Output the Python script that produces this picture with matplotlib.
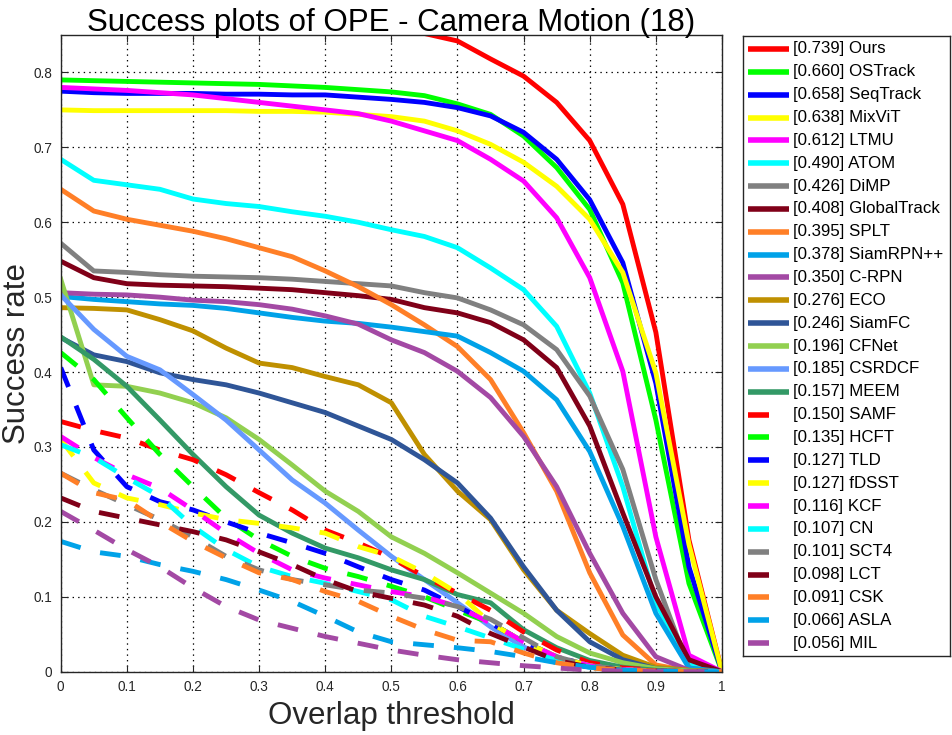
import matplotlib
matplotlib.use("Agg")
import matplotlib.pyplot as plt
import numpy as np

plt.rcParams['font.family'] = ['Liberation Sans', 'DejaVu Sans']
plt.rcParams['lines.scale_dashes'] = False

# overlap thresholds 0:0.05:1
thresholds = np.linspace(0, 1, 21)

names = ['Ours', 'OSTrack', 'SeqTrack', 'MixViT', 'LTMU', 'ATOM', 'DiMP', 'GlobalTrack',
         'SPLT', 'SiamRPN++', 'C-RPN', 'ECO', 'SiamFC', 'CFNet', 'CSRDCF', 'MEEM',
         'SAMF', 'HCFT', 'TLD', 'fDSST', 'KCF', 'CN', 'SCT4', 'LCT', 'CSK', 'ASLA', 'MIL']
auc = [0.739, 0.660, 0.658, 0.638, 0.612, 0.490, 0.426, 0.408, 0.395, 0.378, 0.350,
       0.276, 0.246, 0.196, 0.185, 0.157, 0.150, 0.135, 0.127, 0.127, 0.116, 0.107,
       0.101, 0.098, 0.091, 0.066, 0.056]

ours = [0.875, 0.873, 0.872, 0.871, 0.870, 0.868, 0.866, 0.864, 0.862, 0.860, 0.857,
        0.852, 0.842, 0.818, 0.795, 0.760, 0.709, 0.624, 0.453, 0.176, 0.0]
ostrack = [0.790, 0.789, 0.788, 0.787, 0.786, 0.785, 0.784, 0.782, 0.780, 0.777, 0.774,
           0.769, 0.758, 0.744, 0.715, 0.673, 0.617, 0.519, 0.336, 0.118, 0.0]
seqtrack = [0.775, 0.773, 0.772, 0.772, 0.772, 0.771, 0.771, 0.770, 0.770, 0.767, 0.764,
            0.760, 0.753, 0.742, 0.720, 0.684, 0.630, 0.546, 0.385, 0.140, 0.0]
mixvit = [0.750, 0.749, 0.749, 0.749, 0.749, 0.749, 0.748, 0.748, 0.747, 0.744, 0.741,
          0.735, 0.722, 0.704, 0.680, 0.648, 0.604, 0.533, 0.399, 0.170, 0.0]
ltmu = [0.780, 0.778, 0.776, 0.773, 0.770, 0.765, 0.760, 0.755, 0.750, 0.745, 0.735,
        0.722, 0.709, 0.684, 0.655, 0.606, 0.526, 0.401, 0.180, 0.022, 0.0]
atom = [0.684, 0.656, 0.650, 0.644, 0.631, 0.625, 0.621, 0.614, 0.608, 0.600, 0.590,
        0.581, 0.566, 0.539, 0.510, 0.461, 0.372, 0.247, 0.092, 0.010, 0.0]
dimp = [0.572, 0.535, 0.533, 0.530, 0.528, 0.527, 0.526, 0.524, 0.521, 0.518, 0.515,
        0.506, 0.499, 0.483, 0.463, 0.430, 0.368, 0.270, 0.123, 0.005, 0.0]
globaltrack = [0.548, 0.526, 0.518, 0.516, 0.515, 0.514, 0.512, 0.510, 0.506, 0.502, 0.497,
               0.486, 0.479, 0.466, 0.443, 0.406, 0.328, 0.212, 0.100, 0.016, 0.0]
splt = [0.644, 0.615, 0.604, 0.596, 0.588, 0.578, 0.566, 0.554, 0.535, 0.514, 0.490,
        0.463, 0.434, 0.390, 0.319, 0.241, 0.132, 0.049, 0.009, 0.001, 0.0]
siamrpn = [0.501, 0.497, 0.494, 0.491, 0.489, 0.485, 0.479, 0.473, 0.468, 0.465, 0.460,
           0.454, 0.448, 0.426, 0.401, 0.363, 0.294, 0.194, 0.078, 0.005, 0.0]
crpn = [0.506, 0.504, 0.503, 0.500, 0.496, 0.494, 0.490, 0.484, 0.475, 0.464, 0.443,
        0.426, 0.401, 0.366, 0.314, 0.247, 0.158, 0.078, 0.020, 0.002, 0.0]
eco = [0.486, 0.485, 0.483, 0.470, 0.455, 0.432, 0.412, 0.406, 0.394, 0.383, 0.359,
       0.290, 0.241, 0.203, 0.136, 0.082, 0.051, 0.022, 0.006, 0.002, 0.0]
siamfc = [0.446, 0.423, 0.414, 0.399, 0.390, 0.383, 0.372, 0.359, 0.346, 0.328, 0.310,
          0.283, 0.252, 0.205, 0.140, 0.082, 0.040, 0.016, 0.004, 0.001, 0.0]
cfnet = [0.524, 0.383, 0.381, 0.372, 0.359, 0.339, 0.310, 0.276, 0.241, 0.214, 0.180,
         0.158, 0.132, 0.105, 0.078, 0.047, 0.025, 0.012, 0.004, 0.001, 0.0]
csrdcf = [0.503, 0.457, 0.421, 0.403, 0.370, 0.336, 0.296, 0.256, 0.225, 0.189, 0.154,
          0.123, 0.092, 0.060, 0.033, 0.015, 0.006, 0.002, 0.001, 0.0, 0.0]
meem = [0.447, 0.417, 0.381, 0.336, 0.290, 0.247, 0.209, 0.185, 0.165, 0.152, 0.136,
        0.123, 0.103, 0.092, 0.056, 0.032, 0.015, 0.006, 0.002, 0.0, 0.0]
samf = [0.334, 0.322, 0.312, 0.296, 0.283, 0.263, 0.239, 0.216, 0.189, 0.172, 0.152,
        0.127, 0.105, 0.082, 0.053, 0.029, 0.012, 0.005, 0.002, 0.0, 0.0]
hcft = [0.426, 0.390, 0.339, 0.290, 0.247, 0.205, 0.176, 0.154, 0.138, 0.127, 0.114,
        0.100, 0.082, 0.065, 0.040, 0.020, 0.008, 0.003, 0.001, 0.0, 0.0]
tld = [0.406, 0.296, 0.247, 0.227, 0.216, 0.200, 0.185, 0.172, 0.158, 0.140, 0.123,
       0.109, 0.087, 0.065, 0.040, 0.020, 0.008, 0.003, 0.001, 0.0, 0.0]
fdsst = [0.310, 0.252, 0.232, 0.223, 0.212, 0.203, 0.198, 0.192, 0.185, 0.167, 0.154,
         0.132, 0.105, 0.065, 0.040, 0.020, 0.008, 0.003, 0.001, 0.0, 0.0]
kcf = [0.314, 0.286, 0.263, 0.245, 0.216, 0.185, 0.158, 0.136, 0.125, 0.116, 0.107,
       0.100, 0.087, 0.065, 0.040, 0.020, 0.008, 0.003, 0.001, 0.0, 0.0]
cn = [0.303, 0.286, 0.259, 0.234, 0.194, 0.163, 0.140, 0.127, 0.118, 0.107, 0.096,
      0.074, 0.060, 0.045, 0.030, 0.015, 0.006, 0.002, 0.001, 0.0, 0.0]
sct4 = [0.265, 0.243, 0.223, 0.203, 0.180, 0.154, 0.136, 0.123, 0.116, 0.109, 0.105,
        0.098, 0.087, 0.070, 0.045, 0.020, 0.008, 0.003, 0.001, 0.0, 0.0]
lct = [0.232, 0.214, 0.205, 0.196, 0.187, 0.176, 0.160, 0.143, 0.123, 0.107, 0.098,
       0.089, 0.074, 0.051, 0.033, 0.015, 0.006, 0.002, 0.001, 0.0, 0.0]
csk = [0.265, 0.239, 0.229, 0.200, 0.174, 0.152, 0.132, 0.123, 0.107, 0.094, 0.074,
       0.056, 0.042, 0.040, 0.025, 0.012, 0.005, 0.002, 0.001, 0.0, 0.0]
asla = [0.174, 0.160, 0.154, 0.143, 0.134, 0.123, 0.109, 0.094, 0.074, 0.053, 0.040,
        0.036, 0.032, 0.027, 0.020, 0.012, 0.006, 0.002, 0.001, 0.0, 0.0]
mil = [0.214, 0.189, 0.163, 0.140, 0.112, 0.087, 0.069, 0.058, 0.047, 0.038, 0.029,
       0.022, 0.016, 0.012, 0.008, 0.005, 0.002, 0.001, 0.0, 0.0, 0.0]

curves = [ours, ostrack, seqtrack, mixvit, ltmu, atom, dimp, globaltrack, splt, siamrpn,
          crpn, eco, siamfc, cfnet, csrdcf, meem, samf, hcft, tld, fdsst, kcf, cn, sct4,
          lct, csk, asla, mil]

base_colors = ['#FF0000', '#00FF00', '#0000FF', '#FFFF00', '#FF00FF', '#00FFFF', '#808080',
               '#800018', '#FF7F27', '#00A2E8', '#A349A4', '#BF9000', '#2F5597', '#92D050',
               '#6699FF', '#339966']
colors = base_colors + base_colors[:11]
n_solid = 16

fig = plt.figure(figsize=(9.52, 7.35), dpi=100)
ax = fig.add_axes([0.0638, 0.0861, 0.6946, 0.8663])

for i, (vals, c) in enumerate(zip(curves, colors)):
    if i < n_solid:
        ax.plot(thresholds, vals, color=c, linewidth=3.5, solid_joinstyle='round')
    else:
        ax.plot(thresholds, vals, color=c, linewidth=3.5, linestyle=(0, (15, 14.5)),
                dash_capstyle='butt')

ax.set_xlim(0, 1)
ax.set_ylim(0, 0.85)
ax.set_xticks(np.arange(0, 1.01, 0.1))
ax.set_xticklabels(['0', '0.1', '0.2', '0.3', '0.4', '0.5', '0.6', '0.7', '0.8', '0.9', '1'])
ax.set_yticks(np.arange(0, 0.81, 0.1))
ax.set_yticklabels(['0', '0.1', '0.2', '0.3', '0.4', '0.5', '0.6', '0.7', '0.8'])
ax.tick_params(direction='in', length=5, width=0.8, top=True, right=True,
               labelsize=9.8, colors='#262626', pad=6)
ax.grid(True, linestyle=(0, (1, 3)), color='black', linewidth=0.9)
for sp in ax.spines.values():
    sp.set_color('#262626')
    sp.set_linewidth(1.0)

ax.set_title('Success plots of OPE - Camera Motion (18)', fontsize=22.5, pad=3)
ax.set_xlabel('Overlap threshold', fontsize=22.5, labelpad=5, color='#262626')
ax.set_ylabel('Success rate', fontsize=22.5, color='#262626')
ax.yaxis.set_label_coords(-0.044, 0.5)

# legend drawn in its own box, coordinates in pixels of the box
lg = fig.add_axes([743 / 952, (735 - 656) / 735, 207 / 952, 620 / 735])
lg.set_xlim(0, 207)
lg.set_ylim(620, 0)
lg.set_xticks([])
lg.set_yticks([])
for sp in lg.spines.values():
    sp.set_color('#262626')
    sp.set_linewidth(1.0)

for i, (name, a, c) in enumerate(zip(names, auc, colors)):
    y = 13 + i * 22.85
    x_end = 46 if i < n_solid else 26
    lg.plot([5, x_end], [y, y], color=c, linewidth=4.0, solid_capstyle='butt')
    lg.text(50, y, f'[{a:.3f}] {name}', fontsize=12.2, va='center', ha='left')

fig.savefig('out.png', dpi=100)
